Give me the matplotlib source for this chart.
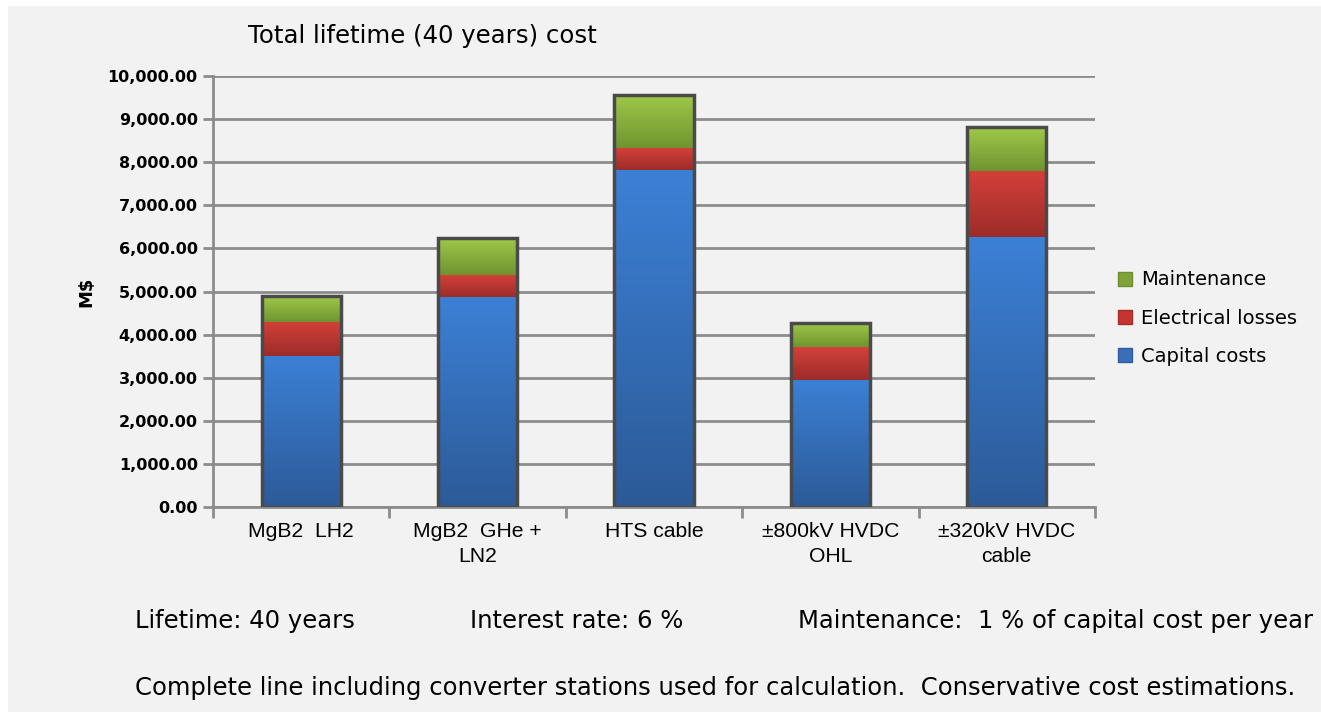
import matplotlib
matplotlib.use("Agg")
import matplotlib.pyplot as plt
import numpy as np
from matplotlib.colors import LinearSegmentedColormap
from matplotlib.patches import Rectangle, Patch
from matplotlib.ticker import FuncFormatter, FixedLocator

# lifetime cost per option, M$
options = ["MgB2  LH2", "MgB2  GHe +\nLN2", "HTS cable", "±800kV HVDC\nOHL", "±320kV HVDC\ncable"]
capital = [3500, 4870, 7820, 2950, 6260]
losses = [800, 510, 510, 760, 1540]
maintenance = [600, 860, 1230, 560, 1020]

W, H = 1321, 718
BG = "#f2f2f2"

fig = plt.figure(figsize=(W / 100, H / 100), dpi=100, facecolor="white")
fig.patches.append(Rectangle((8 / W, 6 / H), 1 - 8 / W, 1 - 12 / H,
                             transform=fig.transFigure, facecolor=BG,
                             edgecolor="none", zorder=-10))

ax = fig.add_axes([213 / W, 1 - 507 / H, 882 / W, 431 / H])
ax.set_facecolor(BG)

# light-to-dark vertical gradients for each stack
grads = {
    "blue": LinearSegmentedColormap.from_list("b", ["#3c80d6", "#2c5a97"]),
    "red": LinearSegmentedColormap.from_list("r", ["#d4403a", "#9c2c29"]),
    "green": LinearSegmentedColormap.from_list("g", ["#a0c94a", "#6f9430"]),
}
ramp = np.linspace(0, 1, 256).reshape(-1, 1)
width = 0.45
x = np.arange(len(options))

def gradient_bars(heights, bottoms, cmap):
    bars = ax.bar(x, heights, width, bottom=bottoms, color="none",
                  edgecolor="none", zorder=2)
    for b in bars:
        x0, y0 = b.get_x(), b.get_y()
        im = ax.imshow(ramp, cmap=cmap, aspect="auto", zorder=2,
                       extent=[x0, x0 + b.get_width(), y0, y0 + b.get_height()])
        im.set_clip_path(b)
    return bars

cap = np.array(capital)
los = np.array(losses)
mnt = np.array(maintenance)
gradient_bars(cap, 0, grads["blue"])
gradient_bars(los, cap, grads["red"])
gradient_bars(mnt, cap + los, grads["green"])

# dark outline around each whole stack
ax.bar(x, cap + los + mnt, width, color="none", edgecolor="#4a4a4a",
       linewidth=2.5, zorder=3)

ax.set_xlim(-0.5, len(options) - 0.5)
ax.set_ylim(0, 10000)
ax.set_yticks(np.arange(0, 10001, 1000))
ax.yaxis.set_major_formatter(FuncFormatter(lambda v, p: f"{v:,.2f}"))
ax.grid(axis="y", color="#8c8c8c", linewidth=2, zorder=1)
ax.set_axisbelow(True)

for s in ["top", "right"]:
    ax.spines[s].set_visible(False)
for s in ["left", "bottom"]:
    ax.spines[s].set_color("#8c8c8c")
    ax.spines[s].set_linewidth(2)

ax.tick_params(axis="y", length=7, width=2, color="#8c8c8c", labelsize=11.5,
               pad=4)
for lab in ax.get_yticklabels():
    lab.set_fontweight("bold")

ax.xaxis.set_major_locator(FixedLocator(np.arange(-0.5, len(options), 1)))
ax.xaxis.set_minor_locator(FixedLocator(x))
ax.set_xticklabels([])
ax.set_xticklabels(options, minor=True, family="Liberation Sans",
                   fontsize=15.2, linespacing=1.4)
ax.tick_params(axis="x", which="major", length=8, width=2, color="#8c8c8c")
ax.tick_params(axis="x", which="minor", length=0, pad=11)

ax.set_ylabel("M$", fontsize=13, fontweight="bold", labelpad=9)

handles = [Patch(facecolor="#7fa33a", edgecolor="#6d8c31"),
           Patch(facecolor="#c4352f", edgecolor="#a52d28"),
           Patch(facecolor="#3a6fb8", edgecolor="#2e5c9c")]
fig.legend(handles, ["Maintenance", "Electrical losses", "Capital costs"],
           loc="center left", bbox_to_anchor=(1118 / W, 1 - 318 / H),
           frameon=False, fontsize=14, handlelength=0.72, handleheight=0.72,
           handletextpad=0.45, labelspacing=0.98, borderpad=0,
           borderaxespad=0)

fig.text(248 / W, 1 - 36 / H, "Total lifetime (40 years) cost",
         fontsize=17.6, ha="left", va="center")

foot = 17.5
fig.text(135 / W, 1 - 621 / H, "Lifetime: 40 years", fontsize=foot, va="center")
fig.text(470 / W, 1 - 621 / H, "Interest rate: 6 %", fontsize=foot, va="center")
fig.text(798 / W, 1 - 621 / H, "Maintenance:  1 % of capital cost per year",
         fontsize=foot, va="center")
fig.text(135 / W, 1 - 688 / H,
         "Complete line including converter stations used for calculation.  "
         "Conservative cost estimations.", fontsize=foot, va="center")

fig.savefig("out.png", dpi=100, facecolor="white")
